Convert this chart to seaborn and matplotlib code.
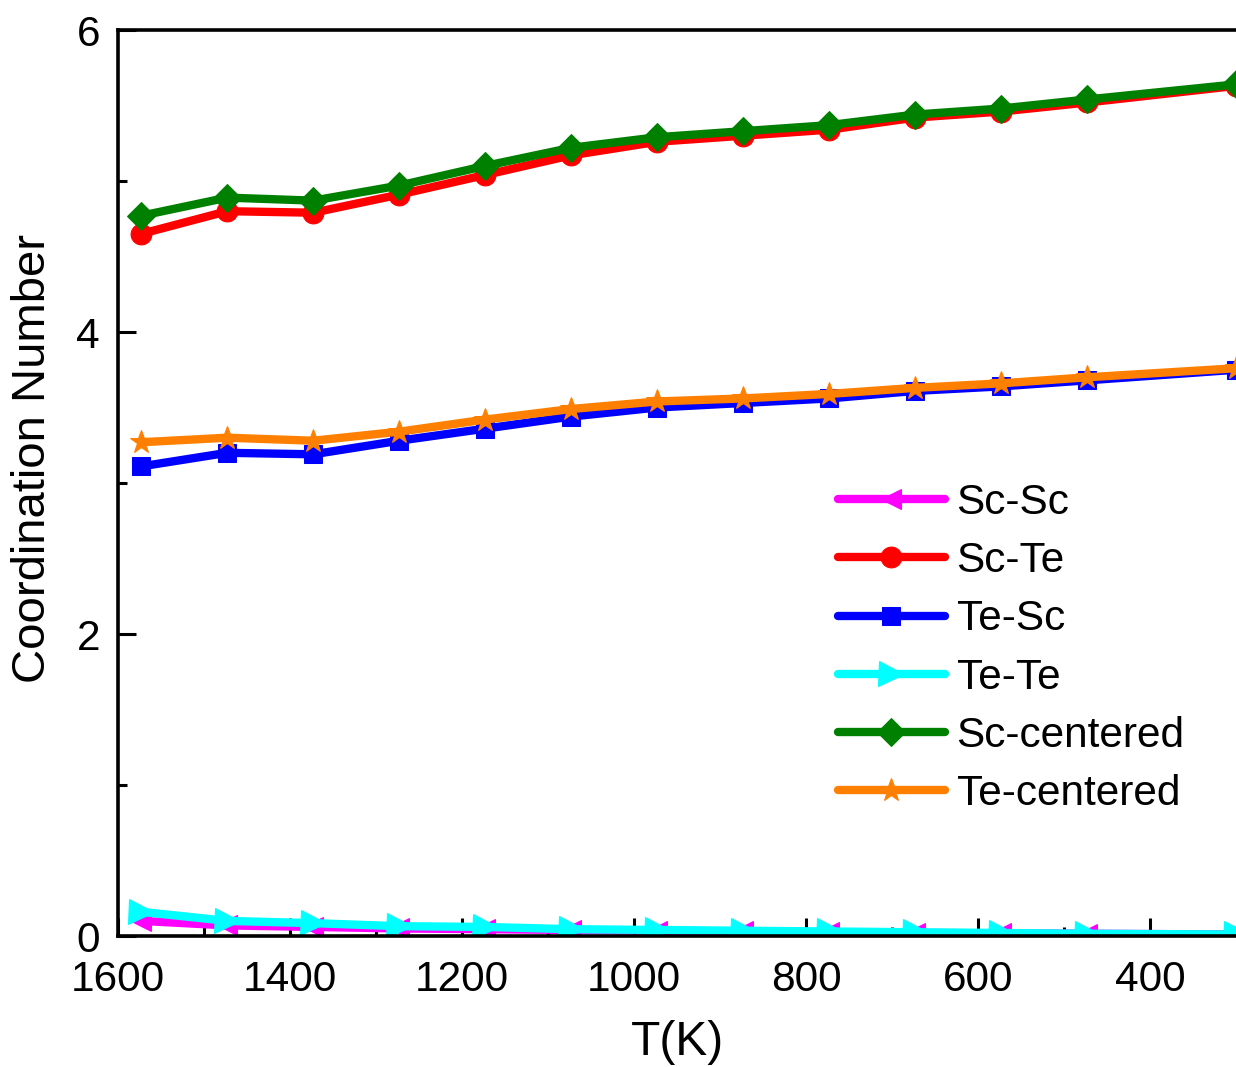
import matplotlib
matplotlib.use("Agg")
import matplotlib.pyplot as plt
import seaborn as sns
import pandas as pd
from matplotlib.ticker import MultipleLocator

sns.set_style("ticks")
plt.rcParams['font.family'] = ['Liberation Sans', 'DejaVu Sans']
plt.rcParams.update({"text.color": "black", "axes.labelcolor": "black",
                     "xtick.color": "black", "ytick.color": "black"})

temps = [1573, 1473, 1373, 1273, 1173, 1073, 973, 873, 773, 673, 573, 473, 300]
sc_sc = [0.10, 0.07, 0.06, 0.05, 0.045, 0.04, 0.035, 0.03, 0.025, 0.02, 0.018, 0.015, 0.01]
sc_te = [4.65, 4.80, 4.79, 4.91, 5.04, 5.17, 5.26, 5.30, 5.34, 5.42, 5.46, 5.52, 5.63]
te_sc = [3.11, 3.20, 3.19, 3.28, 3.36, 3.44, 3.50, 3.53, 3.56, 3.61, 3.64, 3.68, 3.75]
te_te = [0.16, 0.10, 0.085, 0.065, 0.06, 0.045, 0.04, 0.035, 0.03, 0.025, 0.02, 0.015, 0.01]
sc_centered = [4.77, 4.89, 4.87, 4.97, 5.10, 5.22, 5.29, 5.33, 5.37, 5.44, 5.48, 5.54, 5.64]
te_centered = [3.27, 3.30, 3.28, 3.34, 3.42, 3.49, 3.54, 3.56, 3.59, 3.63, 3.66, 3.70, 3.76]

series_names = ["Sc-Sc", "Sc-Te", "Te-Sc", "Te-Te", "Sc-centered", "Te-centered"]
series_values = [sc_sc, sc_te, te_sc, te_te, sc_centered, te_centered]
colors = ["#FF00FF", "#FF0000", "#0000FF", "#00FFFF", "#008000", "#FF8000"]
markers = ["<", "o", "s", ">", "D", "*"]
msizes = [15, 15, 13, 18, 14, 17]

fig = plt.figure(figsize=(12.36, 10.67), dpi=100)
ax = fig.add_axes([118/1236, 1 - 936/1067, 1 - 118/1236, (936 - 30)/1067])

for name, vals, c, m, ms in zip(series_names, series_values, colors, markers, msizes):
    df = pd.DataFrame({"T": temps, "CN": vals})
    sns.lineplot(data=df, x="T", y="CN", ax=ax, color=c, marker=m, markersize=ms,
                 markeredgecolor=c, markerfacecolor=c, linewidth=6, label=name,
                 sort=False, solid_capstyle="round", solid_joinstyle="round")

ax.set_xlim(1600, 300)
ax.set_ylim(0, 6)
ax.xaxis.set_major_locator(MultipleLocator(200))
ax.xaxis.set_minor_locator(MultipleLocator(100))
ax.yaxis.set_major_locator(MultipleLocator(2))
ax.yaxis.set_minor_locator(MultipleLocator(1))
ax.tick_params(which="both", direction="in", width=2.2, top=False, right=False,
               color="black")
ax.tick_params(which="major", length=13, labelsize=30.5)
ax.tick_params(axis="x", which="major", pad=17)
ax.tick_params(axis="y", which="major", pad=13)
ax.tick_params(which="minor", length=6.5)

for side in ["left", "bottom", "top"]:
    ax.spines[side].set_linewidth(2.6)
    ax.spines[side].set_color("black")
ax.spines["right"].set_visible(False)

ax.set_xlabel("T(K)", fontsize=34.5, labelpad=15)
ax.set_ylabel("Coordination Number", fontsize=34)
ax.yaxis.set_label_coords(-0.056, 0.527)

leg = ax.legend(loc="upper left", bbox_to_anchor=(0.644, 0.5), frameon=False,
                fontsize=30.5, handlelength=2.52, handletextpad=0.28,
                labelspacing=0.43, borderaxespad=0, borderpad=0)

fig.savefig("out.png", dpi=100)
